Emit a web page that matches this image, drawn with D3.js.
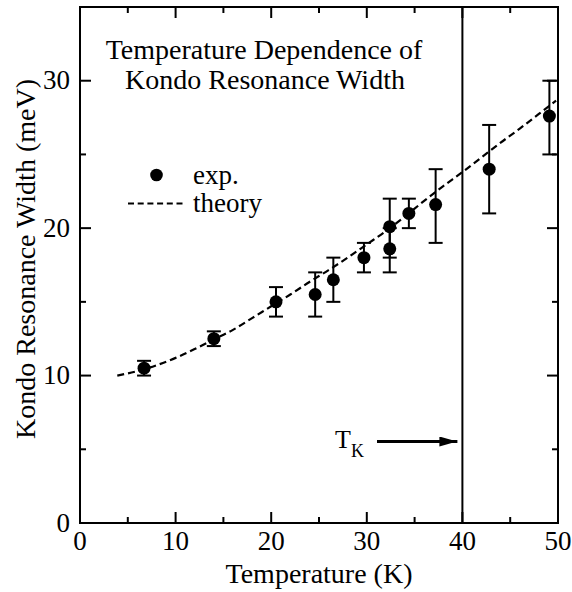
<!DOCTYPE html>
<html><head><meta charset="utf-8">
<script src="https://cdn.jsdelivr.net/npm/d3@7"></script>
<style>body{margin:0;background:#fff}</style>
</head><body><svg id="c" width="572" height="592"></svg>
<script>
const expT   = [6.7, 14.0, 20.5, 24.6, 26.5, 29.7, 32.4, 32.4, 34.4, 37.2, 42.8, 49.1];
const expW   = [10.5, 12.5, 15.0, 15.5, 16.5, 18.0, 20.1, 18.6, 21.0, 21.6, 24.0, 27.6];
const errLo  = [10.0, 12.0, 14.0, 14.0, 15.0, 17.0, 18.0, 17.0, 20.0, 19.0, 21.0, 25.0];
const errHi  = [11.0, 13.0, 16.0, 17.0, 18.0, 19.0, 22.0, 20.0, 22.0, 24.0, 27.0, 30.0];
const theoryT = [3.9, 6, 8, 10, 12, 14, 16, 18, 20, 22, 24, 26, 28, 30, 32, 34, 36, 38, 40, 42, 44, 46, 48, 49.8];
const theoryW = [10.0, 10.3, 10.7, 11.2, 11.8, 12.45, 13.1, 13.9, 14.7, 15.5, 16.35, 17.15, 18.0, 18.9, 19.8, 20.8, 21.85, 22.85, 23.8, 24.8, 25.8, 26.75, 27.75, 28.65];
const xTicks = [0, 10, 20, 30, 40, 50];
const yTicks = [0, 10, 20, 30];
const TK = 40;

const svg = d3.select("#c");
const L = 80, R = 558, T = 7, B = 523;
const x = d3.scaleLinear().domain([0, 50]).range([L, R]);
const y = d3.scaleLinear().domain([0, 35]).range([B, T]);

svg.append("rect").attr("x", L).attr("y", T).attr("width", R - L).attr("height", B - T)
  .attr("fill", "none").attr("stroke", "#000").attr("stroke-width", 2);

const g = svg.append("g");
d3.range(0, 51, 5).forEach(v => {
  const len = v % 10 === 0 ? 11 : 6;
  g.append("line").attr("x1", x(v)).attr("x2", x(v)).attr("y1", B).attr("y2", B - len).attr("stroke", "#000").attr("stroke-width", 2);
  g.append("line").attr("x1", x(v)).attr("x2", x(v)).attr("y1", T).attr("y2", T + len).attr("stroke", "#000").attr("stroke-width", 2);
});
d3.range(0, 36, 5).forEach(v => {
  const len = v % 10 === 0 ? 11 : 6;
  g.append("line").attr("x1", L).attr("x2", L + len).attr("y1", y(v)).attr("y2", y(v)).attr("stroke", "#000").attr("stroke-width", 2);
  g.append("line").attr("x1", R).attr("x2", R - len).attr("y1", y(v)).attr("y2", y(v)).attr("stroke", "#000").attr("stroke-width", 2);
});
xTicks.forEach(v => g.append("text").attr("x", x(v)).attr("y", B + 27).attr("text-anchor", "middle").attr("font-size", 27).text(v));
yTicks.forEach(v => g.append("text").attr("x", 70).attr("y", y(v) + 8.5).attr("text-anchor", "end").attr("font-size", 27).text(v));

svg.append("text").attr("x", 319).attr("y", 583).attr("text-anchor", "middle").attr("font-size", 28).text("Temperature (K)");
svg.append("text").attr("transform", "translate(35,259) rotate(-90)").attr("text-anchor", "middle").attr("font-size", 28).text("Kondo Resonance Width (meV)");

svg.append("text").attr("x", 264).attr("y", 59).attr("text-anchor", "middle").attr("font-size", 28).text("Temperature Dependence of");
svg.append("text").attr("x", 265).attr("y", 89).attr("text-anchor", "middle").attr("font-size", 28).text("Kondo Resonance Width");

svg.append("line").attr("x1", x(TK)).attr("x2", x(TK)).attr("y1", T).attr("y2", B).attr("stroke", "#000").attr("stroke-width", 2);
svg.append("defs").append("marker").attr("id", "ah").attr("viewBox", "0 0 10 10").attr("refX", 10).attr("refY", 5)
  .attr("markerWidth", 18).attr("markerHeight", 10).attr("markerUnits", "userSpaceOnUse").attr("orient", "auto")
  .attr("preserveAspectRatio", "none")
  .append("path").attr("d", "M0,0L10,5L0,10Z").attr("fill", "#000");
svg.append("line").attr("x1", 377).attr("x2", x(TK) - 5).attr("y1", 441.5).attr("y2", 441.5).attr("stroke", "#000").attr("stroke-width", 3).attr("marker-end", "url(#ah)");
const tk = svg.append("text").attr("x", 335).attr("y", 448).attr("font-size", 26);
tk.append("tspan").text("T");
tk.append("tspan").attr("font-size", 18).attr("dy", 9).text("K");

svg.append("path").datum(theoryT.map((t, i) => [t, theoryW[i]]))
  .attr("d", d3.line().x(d => x(d[0])).y(d => y(d[1])).curve(d3.curveMonotoneX))
  .attr("fill", "none").attr("stroke", "#000").attr("stroke-width", 2.2).attr("stroke-dasharray", "7,4");

expT.forEach((t, i) => {
  const cx = x(t);
  svg.append("line").attr("x1", cx).attr("x2", cx).attr("y1", y(errLo[i])).attr("y2", y(errHi[i])).attr("stroke", "#000").attr("stroke-width", 2);
  [errLo[i], errHi[i]].forEach(v => svg.append("line").attr("x1", cx - 7).attr("x2", cx + 7).attr("y1", y(v)).attr("y2", y(v)).attr("stroke", "#000").attr("stroke-width", 2));
  svg.append("circle").attr("cx", cx).attr("cy", y(expW[i])).attr("r", 6.5).attr("fill", "#000");
});

svg.append("circle").attr("cx", 156.5).attr("cy", 175).attr("r", 6.3).attr("fill", "#000");
svg.append("text").attr("x", 193).attr("y", 184).attr("font-size", 27).text("exp.");
svg.append("line").attr("x1", 128).attr("x2", 186).attr("y1", 203.5).attr("y2", 203.5).attr("stroke", "#000").attr("stroke-width", 2).attr("stroke-dasharray", "6,3.7");
svg.append("text").attr("x", 193).attr("y", 212).attr("font-size", 27).text("theory");

svg.selectAll("text").style("font-family", "Liberation Serif");
svg.selectAll("tspan").style("font-family", "Liberation Serif");
</script></body></html>
